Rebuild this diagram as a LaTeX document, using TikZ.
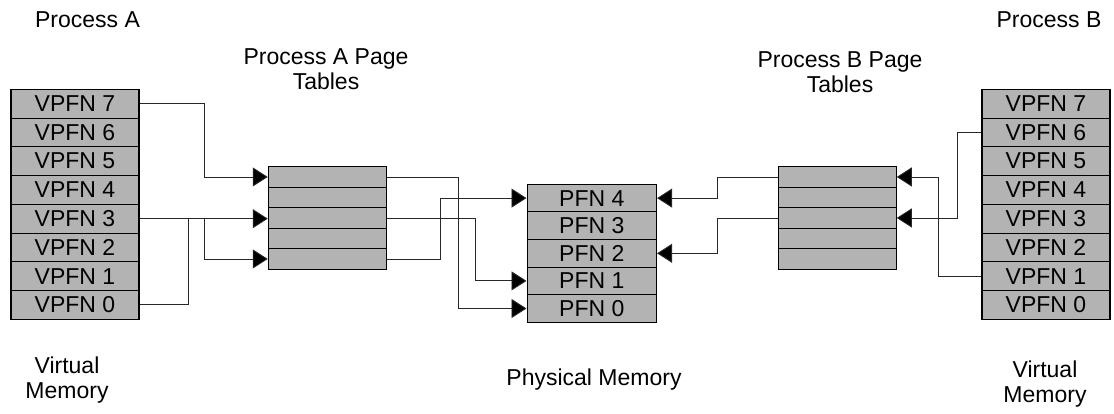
\documentclass[tikz,border=0pt]{standalone}
\usepackage{fontspec}
\setmainfont{Liberation Sans}
\usetikzlibrary{arrows.meta,calc}
\definecolor{cellgray}{RGB}{179,179,179}
\definecolor{linegray}{RGB}{40,40,40}
\tikzset{
  vcell/.style={draw=black, line width=1.1pt, fill=cellgray, minimum width=128pt, minimum height=28.75pt, inner sep=0pt, font=\fontsize{23}{25}\selectfont},
  ptcell/.style={draw=black, line width=1.1pt, fill=cellgray, minimum width=118pt, minimum height=20.5pt, inner sep=0pt},
  pcell/.style={draw=black, line width=1.1pt, fill=cellgray, minimum width=129.5pt, minimum height=27.6pt, inner sep=0pt, font=\fontsize{23}{25}\selectfont},
  conn/.style={draw=linegray, line width=0.9pt, -{Triangle[length=15pt,width=19pt,fill=black]}},
  link/.style={draw=linegray, line width=0.9pt},
  lbl/.style={font=\fontsize{23}{25.5}\selectfont, align=center, inner sep=0pt}
}
\begin{document}
\begin{tikzpicture}[x=1pt,y=-1pt]
\useasboundingbox (0,0) rectangle (1114,413);
% left virtual memory
\foreach \k in {7,...,0}{
  \node[vcell] (va\k) at (75, {89.3+(7-\k+0.5)*28.75}) {VPFN \k};
}
% right virtual memory
\foreach \k in {7,...,0}{
  \node[vcell] (vb\k) at (1046, {89.3+(7-\k+0.5)*28.75}) {VPFN \k};
}
% page tables
\foreach \r in {1,...,5}{
  \node[ptcell] (pa\r) at (327.3, {166.7+(\r-0.5)*20.5}) {};
  \node[ptcell] (pb\r) at (837.2, {166.7+(\r-0.5)*20.5}) {};
}
% physical memory
\foreach \k in {4,...,0}{
  \node[pcell] (p\k) at (591.8, {184.3+(4-\k+0.5)*27.6}) {PFN \k};
}
% labels
\node[lbl] (la) at (87.5,20) {Process A};
\node[lbl] (lb) at (1049,20) {Process B};
\node[lbl] (lpa) at (326,69) {Process A Page\\Tables};
\node[lbl] (lpb) at (840,72) {Process B Page\\Tables};
\node[lbl] (lvma) at (67,380) {Virtual\\Memory};
\node[lbl] (lpm) at (594,380) {Physical Memory};
\node[lbl] (lvmb) at (1045,384) {Virtual\\Memory};
% process A -> page tables
\draw[conn] (va7.east) -- ++(65,0) |- (pa1.west);
\draw[conn] (va3.east) -- (va3.east -| pa3.west);
\draw[conn] ($(va3.east)+(65,0)$) |- (pa5.west);
\draw[link] (va0.east) -| ($(va3.east)+(49,0)$);
% page tables A -> physical
\draw[conn] (pa1.east) -- ++(71.4,0) |- (p0.west);
\draw[conn] (pa3.east) -- ++(88.7,0) |- (p1.west);
\draw[conn] (pa5.east) -- ++(53.7,0) |- (p4.west);
% page tables B -> physical
\draw[conn] (pb1.west) -- ++(-60.6,0) |- (p4.east);
\draw[conn] (pb3.west) -- ++(-60.6,0) |- (p2.east);
% process B -> page tables
\draw[conn] (vb6.west) -- ++(-24.3,0) |- (pb3.east);
\draw[conn] (vb1.west) -- ++(-42.7,0) |- (pb1.east);
\end{tikzpicture}
\end{document}
